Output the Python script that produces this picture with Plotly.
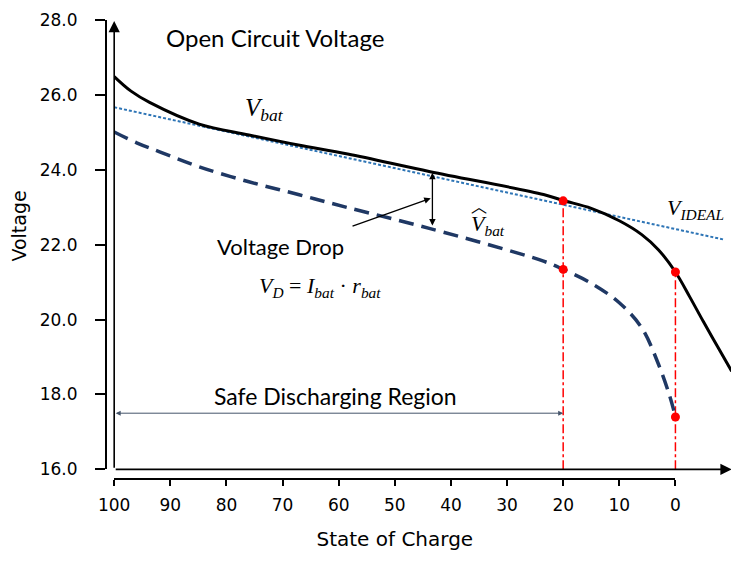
import plotly.graph_objects as go

# ---- data ----
soc_vbat = [100, 97, 93.7, 84.85, 76, 67.2, 58.4, 43.7, 23.5, 20, 15, 10, 6, 3, 0, -2.5, -5, -7.5, -10.02]
v_bat = [26.49, 26.10, 25.80, 25.22, 24.93, 24.66, 24.42, 23.95, 23.34, 23.18, 22.97, 22.64, 22.27, 21.86, 21.27, 20.62, 19.94, 19.28, 18.62]

soc_vhat = [100, 96, 91.9, 84.85, 76, 67.2, 58.4, 43.7, 23.5, 20, 15, 10, 6, 3, 1, 0]
v_hat = [25.01, 24.72, 24.48, 24.08, 23.68, 23.34, 22.99, 22.43, 21.56, 21.34, 20.97, 20.45, 19.78, 18.80, 17.95, 17.40]

soc_ideal = [100, -8.83]
v_ideal = [25.67, 22.13]

soc_marks = [20, 20, 0, 0]
v_marks = [23.17, 21.34, 21.27, 17.40]

soc_cut20 = [20, 20]
v_cut20 = [16, 23.17]
soc_cut0 = [0, 0]
v_cut0 = [16, 21.27]

x_ticks = [100, 90, 80, 70, 60, 50, 40, 30, 20, 10, 0]
y_ticks = [16, 18, 20, 22, 24, 26, 28]

BLACK = "#000000"
NAVY = "#1F3864"
IDEAL = "#2E75B6"
RED = "#FF0000"
SLATE = "#44546A"
SANS = "DejaVu Sans"
CAL = "Lato"
SERIF = "Liberation Serif"

fig = go.Figure()

fig.add_trace(go.Scatter(x=soc_cut20, y=v_cut20, mode="lines",
                         line=dict(color=RED, width=1.5, dash="dashdot"), hoverinfo="skip"))
fig.add_trace(go.Scatter(x=soc_cut0, y=v_cut0, mode="lines",
                         line=dict(color=RED, width=1.5, dash="dashdot"), hoverinfo="skip"))
fig.add_trace(go.Scatter(x=soc_ideal, y=v_ideal, mode="lines",
                         line=dict(color=IDEAL, width=2, dash="3px,2px")))
fig.add_trace(go.Scatter(x=soc_vhat, y=v_hat, mode="lines", line_shape="spline",
                         line=dict(color=NAVY, width=3.5, dash="15px,8px", smoothing=1.0)))
fig.add_trace(go.Scatter(x=soc_vbat, y=v_bat, mode="lines", line_shape="spline",
                         line=dict(color=BLACK, width=3, smoothing=1.0)))
fig.add_trace(go.Scatter(x=soc_marks, y=v_marks, mode="markers",
                         marker=dict(color=RED, size=9)))
# invisible trace to carry the tick axis
fig.add_trace(go.Scatter(x=[100, 0], y=[16, 16], xaxis="x2", yaxis="y", mode="markers",
                         marker=dict(opacity=0), hoverinfo="skip"))

ann = []
# axis arrows
ann.append(dict(x=100, y=27.97, ax=100, ay=16, xref="x", yref="y", axref="x", ayref="y",
                showarrow=True, arrowhead=2, arrowsize=1.4, arrowwidth=1.6, arrowcolor=BLACK, text=""))
ann.append(dict(x=-10.0, y=16, ax=100, ay=16, xref="x", yref="y", axref="x", ayref="y",
                showarrow=True, arrowhead=2, arrowsize=1.4, arrowwidth=1.6, arrowcolor=BLACK, text=""))
# voltage drop double arrow
ann.append(dict(x=43.3, y=23.92, ax=43.3, ay=22.47, xref="x", yref="y", axref="x", ayref="y",
                showarrow=True, arrowhead=2, startarrowhead=2, arrowside="end+start",
                arrowsize=1, startarrowsize=1, arrowwidth=1.3, arrowcolor=BLACK, text=""))
# pointer arrow
ann.append(dict(x=43.6, y=23.24, ax=57.8, ay=22.48, xref="x", yref="y", axref="x", ayref="y",
                showarrow=True, arrowhead=2, arrowsize=1, arrowwidth=1.3, arrowcolor=BLACK, text=""))
# safe region arrow
ann.append(dict(x=20, y=17.5, ax=100, ay=17.5, xref="x", yref="y", axref="x", ayref="y",
                showarrow=True, arrowhead=2, startarrowhead=2, arrowside="end+start",
                arrowsize=1, startarrowsize=1, arrowwidth=1, arrowcolor=SLATE, text=""))

# texts
ann.append(dict(x=71.4, y=27.53, xref="x", yref="y", showarrow=False,
                text="Open Circuit Voltage", font=dict(family=CAL, size=24, color=BLACK)))
ann.append(dict(x=73.2, y=25.62, xref="x", yref="y", showarrow=False,
                text="<i>V<sub>bat</sub></i>", font=dict(family=SERIF, size=25, color=BLACK)))
ann.append(dict(x=70.4, y=21.95, xref="x", yref="y", showarrow=False,
                text="Voltage Drop", font=dict(family=CAL, size=22, color=BLACK)))
ann.append(dict(x=63.3, y=20.87, xref="x", yref="y", showarrow=False,
                text="<i>V<sub>D</sub></i> = <i>I<sub>bat</sub></i> · <i>r<sub>bat</sub></i>",
                font=dict(family=SERIF, size=22, color=BLACK)))
ann.append(dict(x=33.4, y=22.52, xref="x", yref="y", showarrow=False,
                text="<i>V<sub>bat</sub></i>", font=dict(family=SERIF, size=22, color=BLACK)))
ann.append(dict(x=35.0, y=23.05, xref="x", yref="y", showarrow=False,
                text="\ufe3f", font=dict(family="Noto Sans CJK SC", size=16, color=BLACK)))
ann.append(dict(x=-3.6, y=22.94, xref="x", yref="y", showarrow=False,
                text="<i>V<sub>IDEAL</sub></i>", font=dict(family=SERIF, size=22, color=BLACK)))
ann.append(dict(x=60.6, y=17.97, xref="x", yref="y", showarrow=False,
                text="Safe Discharging Region", font=dict(family=CAL, size=23, color=BLACK)))
ann.append(dict(x=-0.1287, y=22.5, xref="paper", yref="y", showarrow=False, textangle=-90,
                xanchor="center", yanchor="middle",
                text="Voltage", font=dict(family=SANS, size=19, color=BLACK)))

# page has an 8px body margin: figure is 731x560 shown at offset (8,8)
fig.update_layout(
    width=731, height=560, autosize=False,
    margin=dict(l=92, r=2, t=9, b=88, pad=0),
    paper_bgcolor="white", plot_bgcolor="rgba(0,0,0,0)",
    showlegend=False,
    annotations=ann,
    xaxis=dict(domain=[0.02245, 1], range=[100, -10.08], showline=False, showgrid=False,
               zeroline=False, showticklabels=False, ticks=""),
    xaxis2=dict(domain=[0.02245, 0.9105], range=[100, 0], anchor="free", position=0.00216,
                showline=True, linecolor=BLACK, linewidth=1.5, showgrid=False, zeroline=False,
                ticks="outside", ticklen=6, tickwidth=1.5, tickcolor=BLACK,
                tickmode="array", tickvals=x_ticks, ticktext=[str(v) for v in x_ticks],
                ticklabelstandoff=5, ticklabeloverflow="allow",
                tickfont=dict(family=SANS, size=17, color=BLACK),
                title=dict(text="State of Charge", font=dict(family=SANS, size=20, color=BLACK), standoff=17)),
    yaxis=dict(domain=[0.0231, 1], range=[16, 28.0], anchor="free", position=0.00895,
               showline=True, linecolor=BLACK, linewidth=1.5, showgrid=False, zeroline=False,
               ticks="outside", ticklen=10, tickwidth=1.5, tickcolor=BLACK,
               tickmode="array", tickvals=y_ticks, ticktext=[f"{v:.1f}" for v in y_ticks],
               ticklabelstandoff=14, ticklabeloverflow="allow",
               tickfont=dict(family=SANS, size=17, color=BLACK)),
)

fig.write_html("out.html")
